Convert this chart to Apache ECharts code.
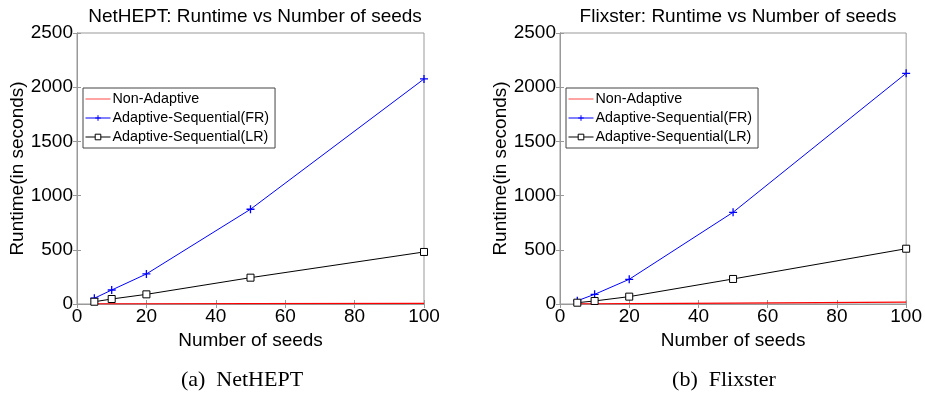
<!DOCTYPE html>
<html><head><meta charset="utf-8">
<script src="https://cdn.jsdelivr.net/npm/echarts@6/dist/echarts.min.js"></script>
<style>html,body{margin:0;padding:0;background:#fff}#c{width:925px;height:393px}</style>
</head><body><div id="c"></div>
<script>
const seeds = [5, 10, 20, 50, 100];
const netheptNonAdaptive = [1, 1, 2, 3, 5];
const netheptFR = [53, 129, 277, 874, 2076];
const netheptLR = [21, 46, 89, 243, 480];
const flixsterNonAdaptive = [1, 2, 4, 8, 18];
const flixsterFR = [30, 89, 228, 846, 2128];
const flixsterLR = [12, 28, 68, 231, 510];
const seriesNames = ['Non-Adaptive', 'Adaptive-Sequential(FR)', 'Adaptive-Sequential(LR)'];
const titles = ['NetHEPT: Runtime vs Number of seeds', 'Flixster: Runtime vs Number of seeds'];
const captions = ['(a)  NetHEPT', '(b)  Flixster'];
const xTicks = {min: 0, max: 100, interval: 20};
const yTicks = {min: 0, max: 2500, interval: 500};

const font = 'Liberation Sans';
const pair = (ys) => seeds.map((x, i) => [x, ys[i]]);
const plusPath = 'path://M0,5L10,5M5,0L5,10';

const grids = [
  {left: 77, top: 33, width: 347, height: 271},
  {left: 560, top: 33, width: 347, height: 271}
];
const centers = [250, 733];

const xAxes = [], yAxes = [], series = [], titleArr = [], legends = [];
grids.forEach((g, gi) => {
  g.show = true; g.borderColor = '#999'; g.borderWidth = 1;
  xAxes.push({type: 'value', gridIndex: gi, min: xTicks.min, max: xTicks.max, interval: xTicks.interval,
    name: 'Number of seeds', nameLocation: 'middle', nameGap: 23,
    nameTextStyle: {fontFamily: font, fontSize: 19, color: '#000'},
    axisLine: {lineStyle: {color: '#999'}}, axisTick: {inside: true, length: 4, lineStyle: {color: '#999'}},
    axisLabel: {fontFamily: font, fontSize: 19, color: '#000', margin: 3, formatter: (v) => String(v)}, splitLine: {show: false}});
  xAxes.push({type: 'value', gridIndex: gi, position: 'top', min: xTicks.min, max: xTicks.max, interval: xTicks.interval,
    axisLine: {lineStyle: {color: '#999'}}, axisTick: {inside: true, length: 4, lineStyle: {color: '#999'}},
    axisLabel: {show: false}, splitLine: {show: false}});
  yAxes.push({type: 'value', gridIndex: gi, min: yTicks.min, max: yTicks.max, interval: yTicks.interval,
    name: 'Runtime(in seconds)', nameLocation: 'middle', nameGap: 45,
    nameTextStyle: {fontFamily: font, fontSize: 19, color: '#000'},
    axisLine: {show: true, lineStyle: {color: '#999'}}, axisTick: {show: true, inside: true, length: 4, lineStyle: {color: '#999'}},
    axisLabel: {fontFamily: font, fontSize: 19, color: '#000', margin: 4, formatter: (v) => String(v)}, splitLine: {show: false}});
  yAxes.push({type: 'value', gridIndex: gi, position: 'right', min: yTicks.min, max: yTicks.max, interval: yTicks.interval,
    axisLine: {show: true, lineStyle: {color: '#999'}}, axisTick: {show: true, inside: true, length: 4, lineStyle: {color: '#999'}},
    axisLabel: {show: false}, splitLine: {show: false}});
  titleArr.push({text: titles[gi], left: centers[gi], top: 2, textAlign: 'center',
    textStyle: {fontFamily: font, fontSize: 19, fontWeight: 'normal', color: '#000'}});
});
titleArr.push({text: captions[0], left: 237, top: 364, textAlign: 'center',
  textStyle: {fontFamily: 'Liberation Serif', fontSize: 22, fontWeight: 'normal', color: '#000'}});
titleArr.push({text: captions[1], left: 719, top: 364, textAlign: 'center',
  textStyle: {fontFamily: 'Liberation Serif', fontSize: 22, fontWeight: 'normal', color: '#000'}});

const data = [[netheptNonAdaptive, netheptFR, netheptLR], [flixsterNonAdaptive, flixsterFR, flixsterLR]];
data.forEach((d, gi) => {
  series.push({name: seriesNames[0], type: 'line', xAxisIndex: gi * 2, yAxisIndex: gi * 2, data: pair(d[0]),
    showSymbol: false, symbol: 'none', lineStyle: {color: '#f00', width: 1.2}, itemStyle: {color: '#f00'}, animation: false});
  series.push({name: seriesNames[1], type: 'line', xAxisIndex: gi * 2, yAxisIndex: gi * 2, data: pair(d[1]),
    symbol: plusPath, symbolSize: 8, lineStyle: {color: '#00f', width: 1},
    itemStyle: {color: '#00f', borderColor: '#00f', borderWidth: 1.3}, animation: false});
  series.push({name: seriesNames[2], type: 'line', xAxisIndex: gi * 2, yAxisIndex: gi * 2, data: pair(d[2]),
    symbol: 'rect', symbolSize: 7, lineStyle: {color: '#000', width: 1},
    itemStyle: {color: '#fff', borderColor: '#000', borderWidth: 1}, animation: false});
});
const legendLefts = [83, 566];
legendLefts.forEach((l) => {
  legends.push({left: l, top: 88, orient: 'vertical', data: [
      {name: seriesNames[0], icon: 'path://M0,0L25,0L25,1.2L0,1.2Z', itemStyle: {color: '#f66', borderWidth: 0}},
      {name: seriesNames[1], lineStyle: {width: 1}, itemStyle: {borderWidth: 1}},
      {name: seriesNames[2], lineStyle: {width: 1}, itemStyle: {borderWidth: 1}}],
    itemWidth: 25, itemHeight: 7, itemGap: 5, padding: [4, 6, 4, 2],
    borderColor: '#444', borderWidth: 1, backgroundColor: '#fff', selectedMode: false,
    textStyle: {fontFamily: font, fontSize: 14.3, color: '#000', padding: [0, 0, 0, -3]}});
});

const chart = echarts.init(document.getElementById('c'), null, {renderer: 'canvas'});
chart.setOption({animation: false, title: titleArr, legend: legends, grid: grids, xAxis: xAxes, yAxis: yAxes, series: series});
</script></body></html>
